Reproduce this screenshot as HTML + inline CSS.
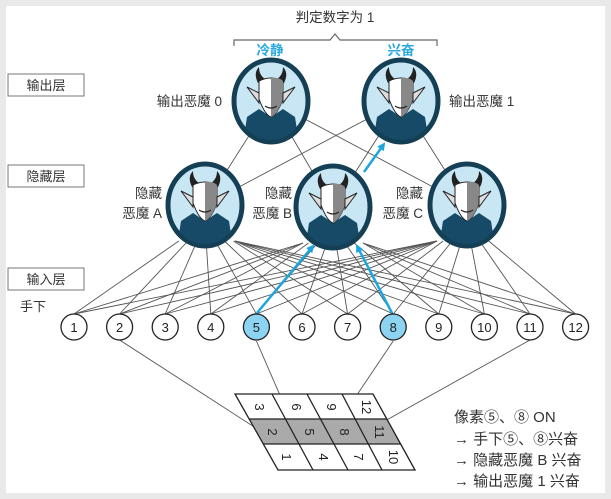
<!DOCTYPE html>
<html><head><meta charset="utf-8"><style>
html,body{margin:0;padding:0;background:#e9e9e9;}
svg{display:block;font-family:"Liberation Sans","Noto Sans CJK SC",sans-serif;}
</style></head><body>
<svg width="611" height="499" viewBox="0 0 611 499" xmlns="http://www.w3.org/2000/svg">
<defs>
<g id="dm">
<ellipse cx="0" cy="0" rx="37" ry="41" fill="#c9e6f4" stroke="#143f55" stroke-width="5"/>
<clipPath id="c"><ellipse cx="0" cy="0" rx="35" ry="39"/></clipPath>
<g clip-path="url(#c)">
<path d="M-28 42 L-24 16 L-12 8 L0 16 L12 8 L24 16 L28 42 Z" fill="#164a66"/>
</g>
<path d="M-13 -18 Q-18 -28 -12 -34 Q-12 -26 -6 -22 Z M13 -18 Q18 -28 12 -34 Q12 -26 6 -22 Z" fill="#222"/>
<path d="M-12 -20 Q0 -26 12 -20 L12 -2 Q6 14 0 16 Q-6 14 -12 -2 Z" fill="#fff" stroke="#222" stroke-width="1"/>
<path d="M0 -23 Q8 -24 12 -20 L12 -2 Q6 14 0 16 Z" fill="#888"/>
<path d="M-12 -8 L-24 -14 L-12 2 Z M12 -8 L24 -14 L12 2 Z" fill="#ddd" stroke="#222" stroke-width="1"/>
<path d="M-6 5 Q0 9 6 5" stroke="#222" fill="none" stroke-width="1.2"/>
</g>
<marker id="ar" markerWidth="8" markerHeight="8" refX="6" refY="4" orient="auto" markerUnits="userSpaceOnUse"><path d="M0 0 L8 4 L0 8 Z" fill="#1ba6e0"/></marker>
</defs>
<rect x="6" y="6" width="599" height="487" fill="#fff"/>
<g stroke="#555" stroke-width="0.9" fill="none" id="lines"></g>
<script>
var ns="http://www.w3.org/2000/svg";var g=document.getElementById("lines");
function L(a,b,c,d){var l=document.createElementNS(ns,"line");l.setAttribute("x1",a);l.setAttribute("y1",b);l.setAttribute("x2",c);l.setAttribute("y2",d);g.appendChild(l);}
var H=[[205,205],[333,207],[467,205]];
for(var i=0;i<12;i++){var x=74+45.6*i;for(var j=0;j<3;j++){var dx=Math.max(-30,Math.min(30,(x-H[j][0])*0.2));L(x,314,H[j][0]+dx,H[j][1]+36);}}
var O=[[271,101],[401,101]];
for(var j=0;j<3;j++)for(var k=0;k<2;k++)L(H[j][0],H[j][1],O[k][0],O[k][1]);
</script>
<g stroke="#555" stroke-width="0.9">
<line x1="119.6" y1="340" x2="262" y2="432"/>
<line x1="256.4" y1="341" x2="296" y2="432"/>
<line x1="393.2" y1="341" x2="332" y2="432"/>
<line x1="530" y1="340" x2="365" y2="432"/>
</g>
<use href="#dm" x="271" y="101"/><use href="#dm" x="401" y="101"/>
<use href="#dm" x="205" y="205"/><use href="#dm" x="333" y="207"/><use href="#dm" x="467" y="205"/>
<g stroke="#1ba6e0" stroke-width="2.5" marker-end="url(#ar)">
<line x1="257" y1="313" x2="313" y2="246"/>
<line x1="392" y1="313" x2="357" y2="246"/>
<line x1="364" y1="172" x2="384" y2="144"/>
</g>
<g font-size="13" text-anchor="middle" fill="#222">
<script>
var t=document.currentScript.parentNode;
for(var i=0;i<12;i++){var x=74+45.6*i;var c=document.createElementNS(ns,"circle");c.setAttribute("cx",x);c.setAttribute("cy",327);c.setAttribute("r",13);c.setAttribute("fill",(i==4||i==7)?"#8dd3f2":"#fff");c.setAttribute("stroke","#222");c.setAttribute("stroke-width","1.3");t.appendChild(c);var s=document.createElementNS(ns,"text");s.setAttribute("x",x);s.setAttribute("y",332);s.textContent=i+1;t.appendChild(s);}
</script>
</g>
<polygon points="235,394 373,394 415,470 278,470" fill="#fff"/>
<polygon points="249,419 387,419 401,444 263,444" fill="#aaa"/>
<g stroke="#222" stroke-width="1.3" fill="none">
<polygon points="235,394 373,394 415,470 278,470"/>
<line x1="249" y1="419" x2="387" y2="419"/><line x1="263" y1="444" x2="401" y2="444"/>
<line x1="272" y1="394" x2="313" y2="470"/><line x1="307" y1="394" x2="348" y2="470"/><line x1="342" y1="394" x2="382" y2="470"/>
</g>
<g font-size="13" fill="#222" text-anchor="middle">
<text transform="translate(259,407) rotate(90)" y="4">3</text>
<text transform="translate(296,407) rotate(90)" y="4">6</text>
<text transform="translate(331,407) rotate(90)" y="4">9</text>
<text transform="translate(366,407) rotate(90)" y="4">12</text>
<text transform="translate(272,432) rotate(90)" y="4">2</text>
<text transform="translate(309,432) rotate(90)" y="4">5</text>
<text transform="translate(344,432) rotate(90)" y="4">8</text>
<text transform="translate(379,432) rotate(90)" y="4">11</text>
<text transform="translate(286,457) rotate(90)" y="4">1</text>
<text transform="translate(323,457) rotate(90)" y="4">4</text>
<text transform="translate(358,457) rotate(90)" y="4">7</text>
<text transform="translate(393,457) rotate(90)" y="4">10</text>
</g>
<g fill="#fff" stroke="#777" stroke-width="1">
<rect x="8" y="74" width="76" height="22"/><rect x="8" y="165" width="76" height="22"/><rect x="8" y="268" width="76" height="22"/>
</g>
<g font-size="13" fill="#333" text-anchor="middle">
<text x="46" y="90">输出层</text><text x="46" y="181">隐藏层</text><text x="46" y="284">输入层</text>
</g>
<text x="20" y="311" font-size="13" fill="#333">手下</text>
<text x="335" y="22" font-size="13.5" fill="#333" text-anchor="middle">判定数字为 1</text>
<path d="M234 46 V40 H330 L335 34 L340 40 H437 V46" stroke="#666" fill="none" stroke-width="1.2"/>
<text x="270" y="55" font-size="13.5" fill="#2aa9de" text-anchor="middle" font-weight="bold">冷静</text>
<text x="401" y="55" font-size="13.5" fill="#2aa9de" text-anchor="middle" font-weight="bold">兴奋</text>
<g font-size="13.5" fill="#333">
<text x="222" y="106" text-anchor="end">输出恶魔 0</text>
<text x="449" y="106">输出恶魔 1</text>
<text x="162" y="198" text-anchor="end">隐藏</text><text x="162" y="218" text-anchor="end">恶魔 A</text>
<text x="292" y="198" text-anchor="end">隐藏</text><text x="292" y="218" text-anchor="end">恶魔 B</text>
<text x="423" y="198" text-anchor="end">隐藏</text><text x="423" y="218" text-anchor="end">恶魔 C</text>
</g>
<g font-size="15" fill="#333">
<text x="454" y="422">像素⑤、⑧ ON</text>
<text x="454" y="444">→ 手下⑤、⑧兴奋</text>
<text x="454" y="465">→ 隐藏恶魔 B 兴奋</text>
<text x="454" y="486">→ 输出恶魔 1 兴奋</text>
</g>
</svg>
</body></html>
